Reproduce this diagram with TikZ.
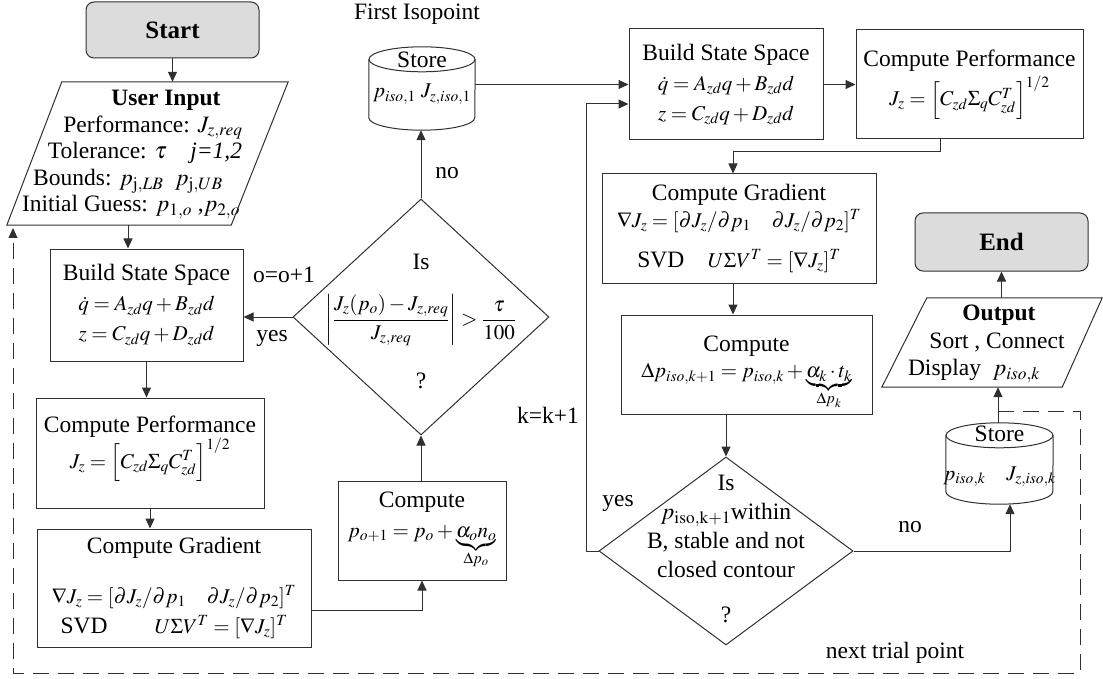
\documentclass[tikz,border=0pt]{standalone}
\usepackage{amsmath}
\usepackage{mathptmx}
\usepackage{fontspec}
\setmainfont{Liberation Serif}
\usetikzlibrary{shapes.geometric,arrows.meta}
\definecolor{lc}{HTML}{303030}
\definecolor{termfill}{HTML}{DCDCDC}
\newcommand\tfnt{\fontsize{23.5}{30}\selectfont}
\newcommand\mfnt{\fontsize{21}{30}\selectfont}
\newcommand\pfnt{\fontsize{23.5}{26.5}\selectfont}
% place a line of text at a given raise from the node centre, taking no room
\newcommand\putline[2]{\makebox[0pt]{\raisebox{#1}[0pt][0pt]{\makebox[0pt]{#2}}}}
\begin{document}
\begin{tikzpicture}[x=1pt,y=-1pt,
 every node/.style={font=\tfnt},
 line/.style={draw=lc, line width=1pt},
 box/.style={line, fill=white, align=center, inner sep=2pt},
 term/.style={box, fill=termfill, rounded corners=8pt, font=\fontsize{25}{30}\selectfont\bfseries},
 para/.style={inner sep=0pt},
 dia/.style={line, diamond, inner sep=0pt},
 db/.style={inner sep=0pt},
 arr/.style={line, -{Triangle[length=10pt,width=9pt]}},
 dashl/.style={arr, dash pattern=on 16pt off 9pt},
 lbl/.style={inner sep=0pt},
]
\useasboundingbox (0,0) rectangle (1103,679);

% ---------- left column ----------
\node[term, minimum width=173, minimum height=56] (start) at (172.5,30) {Start};

\node[para, minimum width=281, minimum height=143] (input) at (147.5,153.5)
 {\makebox[0pt]{\pfnt\begin{tabular}{@{}c@{}}
  \hspace*{37pt}\textbf{User Input}\\
  \hspace*{11pt}Performance: $J_{z,req}$\\
  Tolerance: $\tau$\quad \textit{j=1,2}\hspace*{5pt}\\
  Bounds: $p_{\mathrm{j},LB}\ \ p_{\mathrm{j},UB}$\hspace*{39pt}\\
  Initial Guess: $p_{1,o}$ ,$p_{2,o}$\hspace*{33pt}
 \end{tabular}}};
\draw[line] (input.south west) -- ([xshift=55pt]input.north west) -- (input.north east)
  -- ([xshift=-57pt]input.south east) -- cycle;

\node[box, minimum width=193, minimum height=112] (bssL) at (146.5,305)
 {Build State Space\\ \mfnt$\dot q = A_{zd}q + B_{zd}d$\\ \mfnt$z = C_{zd}q + D_{zd}d$};

\node[box, minimum width=228, minimum height=110, text depth=22pt] (perfL) at (150,453)
 {Compute Performance\\ \mfnt$J_{z} = \Bigl[C_{zd}\Sigma_q C_{zd}^T\Bigr]^{1/2}$};

\node[box, minimum width=274, minimum height=118] (gradL) at (174,588)
 {Compute Gradient\\[20pt] \mfnt$\nabla J_{z} = [\partial J_z/\partial p_1\quad \partial J_z/\partial p_2]^T$\\
  SVD\qquad\mfnt$U\Sigma V^T = [\nabla J_z]^T$};

\node[box, minimum width=168, minimum height=99] (compO) at (422,530.5)
 {Compute\\ \mfnt$p_{o+1} = p_o + \underbrace{\alpha_o n_o}_{\Delta p_o}$};

\node[dia, minimum width=256, minimum height=236] (dia1) at (421,317)
 {\makebox[0pt]{\tfnt\begin{tabular}{@{}c@{}}
  \rule{0pt}{33pt}Is\\[16pt]
  \mfnt$\left|\dfrac{J_{z}(p_o)-J_{z,req}}{J_{z,req}}\right| > \dfrac{\tau}{100}$\\[33pt]
  ?
 \end{tabular}}};

\node[db, minimum width=106, minimum height=83] (store1) at (422,88.5)
 {\putline{20.5pt}{Store}\putline{-9.5pt}{\mfnt$p_{iso,1}\ J_{z,iso,1}$}};
\draw[line] ([yshift=-12.5pt]store1.north west) -- ([yshift=12.5pt]store1.south west)
  arc[start angle=180, end angle=360, x radius=53pt, y radius=12.5pt]
  -- ([yshift=-12.5pt]store1.north east);
\draw[line] ([yshift=-12.5pt]store1.north) ellipse [x radius=53pt, y radius=12.5pt];

% ---------- right part ----------
\node[box, minimum width=194, minimum height=111] (bssR) at (726,84.5)
 {Build State Space\\ \mfnt$\dot q = A_{zd}q + B_{zd}d$\\ \mfnt$z = C_{zd}q + D_{zd}d$};

\node[box, minimum width=227, minimum height=109] (perfR) at (969.5,84.5)
 {Compute Performance\\[4pt] \mfnt$J_{z} = \Bigl[C_{zd}\Sigma_q C_{zd}^T\Bigr]^{1/2}$};

\node[box, minimum width=274, minimum height=109] (gradR) at (739,228.5)
 {Compute Gradient\\[-3pt] \mfnt$\nabla J_{z} = [\partial J_z/\partial p_1\quad \partial J_z/\partial p_2]^T$\\[10pt]
  SVD\quad\mfnt$U\Sigma V^T = [\nabla J_z]^T$};

\node[box, minimum width=251, minimum height=99] (compK) at (746.5,364.5)
 {\rule{0pt}{32pt}Compute\\[-4pt] \mfnt$\Delta p_{iso,k+1} = p_{iso,k} + \underbrace{\alpha_k\cdot t_k}_{\Delta p_k}$};

\node[dia, minimum width=254, minimum height=188] (dia2) at (726,551)
 {\makebox[0pt]{\fontsize{23.5}{29}\selectfont\begin{tabular}{@{}c@{}}
  Is\\
  $p_{\mathrm{iso,k+1}}$within\\
  B, stable and not\\
  closed contour\\[16pt]
  ?
 \end{tabular}}};

\node[db, minimum width=107, minimum height=81] (store2) at (999.5,463.5)
 {\putline{22.5pt}{Store}\putline{-16.5pt}{\mfnt$p_{iso,k}\quad J_{z,iso,k}$}};
\draw[line] ([yshift=-12.5pt]store2.north west) -- ([yshift=12.5pt]store2.south west)
  arc[start angle=180, end angle=360, x radius=53.5pt, y radius=12.5pt]
  -- ([yshift=-12.5pt]store2.north east);
\draw[line] ([yshift=-12.5pt]store2.north) ellipse [x radius=53.5pt, y radius=12.5pt];

\node[para, minimum width=220, minimum height=89] (output) at (992,342.5)
 {\makebox[0pt]{\fontsize{23.5}{27.5}\selectfont\begin{tabular}{@{}c@{}}
  \hspace*{14pt}\textbf{Output}\\
  \hspace*{10pt}Sort , Connect\\
  Display\ \ $p_{iso,k}$\hspace*{36pt}
 \end{tabular}}};
\draw[line] (output.south west) -- ([xshift=45pt]output.north west) -- (output.north east)
  -- ([xshift=-40pt]output.south east) -- cycle;

\node[term, minimum width=173, minimum height=58] (end) at (1001.5,242) {End};

% ---------- labels ----------
\node[lbl] (lfirst) at (417,14) {First Isopoint};
\node[lbl] (lno1) at (447,173) {no};
\node[lbl] (lo) at (284,275) {o=o+1};
\node[lbl] (lyes1) at (272,338) {yes};
\node[lbl] (lk) at (548,415) {k=k+1};
\node[lbl] (lyes2) at (618,503) {yes};
\node[lbl] (lno2) at (910,527) {no};
\node[lbl] (lnext) at (895,653) {next trial point};

% ---------- helper coordinates ----------
\coordinate (c128) at (128,0);
\coordinate (c586) at (586,0);
\coordinate (k1) at (940,152);
\coordinate (k2) at (733,152);
\coordinate (k3) at (1010,0);
\coordinate (k4) at (998,0);
\coordinate (d0) at (998,411);
\coordinate (dc) at (1080,673);
\coordinate (d1) at (13,228);

% ---------- connectors ----------
\draw[arr] (start.south) -- (start.south |- input.north);
\draw[arr] (input.south -| c128) -- (bssL.north -| c128);
\draw[arr] (bssL.south) -- (perfL.north -| bssL.south);
\draw[arr] (perfL.south) -- (gradL.north -| perfL.south);
\draw[arr] ([yshift=-22pt]gradL.east) -| (compO.south);
\draw[arr] (compO.north -| dia1.south) -- (dia1.south);
\draw[arr] (dia1.west) -- (dia1.west -| bssL.east);
\draw[arr] (dia1.north) -- (store1.south -| dia1.north);
\draw[arr] (store1.east |- bssR.west) -- (bssR.west);
\draw[arr] (dia2.west) -- (dia2.west -| c586) -- ([yshift=-19.5pt]bssR.west -| c586) -- ([yshift=-19.5pt]bssR.west);
\draw[arr] (bssR.east) -- (bssR.east -| perfR.west);
\draw[arr] (perfR.south -| k1) -- (k1) -- (k2) -- (gradR.north -| k2);
\draw[arr] (gradR.south -| k2) -- (compK.north -| k2);
\draw[arr] (compK.south -| dia2.north) -- (dia2.north);
\draw[arr] (dia2.east) -- (dia2.east -| k3) -- (store2.south -| k3);
\draw[arr] (store2.north -| k4) -- (output.south -| k4);
\draw[arr] (output.north -| end.south) -- (end.south);
\draw[dashl] (d0) -| (dc) -| (d1);
\end{tikzpicture}
\end{document}
